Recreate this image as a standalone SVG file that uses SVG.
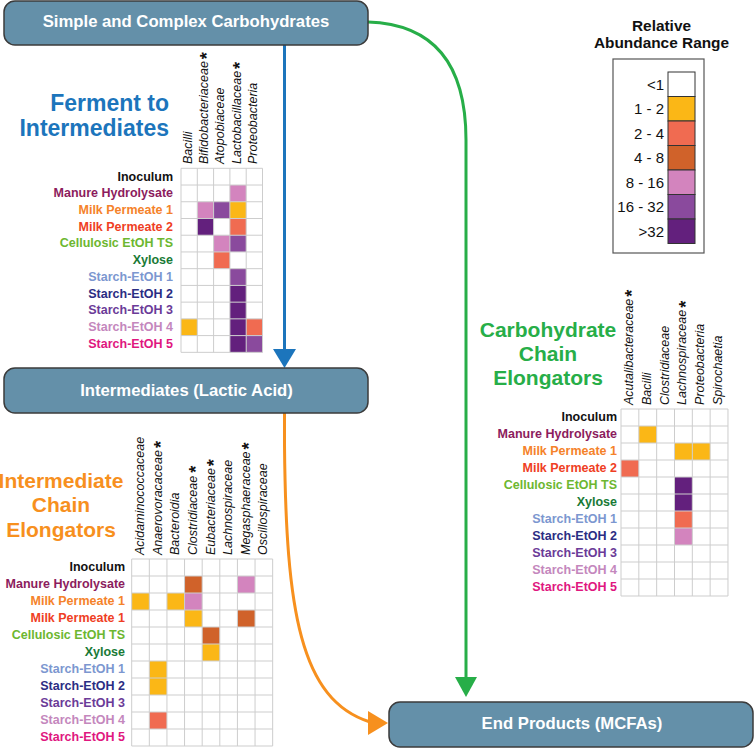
<svg xmlns="http://www.w3.org/2000/svg" width="754" height="748" viewBox="0 0 754 748">
<style>
text{font-family:"Liberation Sans",Arial,Helvetica,sans-serif}
.node rect{fill:#6490a9;stroke:#3b3b3b;stroke-width:1.5}
.node text{fill:#fff;font-weight:bold;font-size:16.7px;text-anchor:middle}
.rl{font-weight:bold;font-size:12.5px;text-anchor:end}
.cl{font-style:italic;font-size:12.5px;fill:#111}
.ast{font-style:normal;font-weight:bold;font-size:18px}
.k0{fill:#111}.k1{fill:#8c1c5d}.k2{fill:#f5822a}.k3{fill:#ef3e24}.k4{fill:#6db730}.k5{fill:#197a36}.k6{fill:#7c97d0}.k7{fill:#2b2d83}.k8{fill:#6b3b98}.k9{fill:#c487bd}.k10{fill:#e0177f}
.v0{fill:#fff}.v1{fill:#fbb716}.v2{fill:#f06b51}.v3{fill:#d0622a}.v4{fill:#d384be}.v5{fill:#8a4a9d}.v6{fill:#63207d}
.grid{fill:none;stroke:#cdcdcd;stroke-width:1;vector-effect:non-scaling-stroke}
.title{font-weight:bold;font-size:21px;text-anchor:middle}
.leg{font-size:15px;text-anchor:end;fill:#111}
.legt{font-size:15.4px;font-weight:bold;text-anchor:middle;fill:#111}
.sw{stroke:#333;stroke-width:1}
</style>

<g id="connectors">
  <path d="M284.5,45 L284.5,351" fill="none" stroke="#1c75bc" stroke-width="3"/>
  <polygon points="273,349 296,349 284.5,368" fill="#1c75bc"/>
  <path d="M368,22 C430,24 466,60 466,140 L466,679" fill="none" stroke="#27ae48" stroke-width="3"/>
  <polygon points="455,677 477,677 466,697" fill="#27ae48"/>
  <path d="M284.5,413 L284.5,445 C286,610 300,700 370,722" fill="none" stroke="#f7901e" stroke-width="3"/>
  <polygon points="368,711 368,735 388,723" fill="#f7901e"/>
</g>

<g id="node-carbohydrates" class="node">
  <rect x="4" y="1" width="364" height="44" rx="11"/>
  <text x="186" y="27">Simple and Complex Carbohydrates</text>
</g>
<g id="node-intermediates" class="node">
  <rect x="4" y="368" width="364" height="45" rx="11"/>
  <text x="186.5" y="396">Intermediates (Lactic Acid)</text>
</g>
<g id="node-end-products" class="node">
  <rect x="389" y="702" width="364" height="45" rx="11"/>
  <text x="572" y="729">End Products (MCFAs)</text>
</g>

<g id="legend">
  <text class="legt" x="661.5" y="31">Relative</text>
  <text class="legt" x="661.5" y="48">Abundance Range</text>
  <rect x="613" y="59" width="91" height="194" fill="#fff" stroke="#555" stroke-width="1.2"/>
  <rect class="sw v0" x="668" y="72" width="27" height="24.5"/>
  <rect class="sw v1" x="668" y="96.5" width="27" height="24.5"/>
  <rect class="sw v2" x="668" y="121" width="27" height="24.5"/>
  <rect class="sw v3" x="668" y="145.5" width="27" height="24.5"/>
  <rect class="sw v4" x="668" y="170" width="27" height="24.5"/>
  <rect class="sw v5" x="668" y="194.5" width="27" height="24.5"/>
  <rect class="sw v6" x="668" y="219" width="27" height="24.5"/>
  <text class="leg" x="664" y="89.5">&lt;1</text>
  <text class="leg" x="664" y="114">1 - 2</text>
  <text class="leg" x="664" y="138.5">2 - 4</text>
  <text class="leg" x="664" y="163">4 - 8</text>
  <text class="leg" x="664" y="187.5">8 - 16</text>
  <text class="leg" x="664" y="212">16 - 32</text>
  <text class="leg" x="664" y="236.5">&gt;32</text>
</g>

<g id="ferment-heatmap">
  <text class="title" style="text-anchor:end;font-size:23px" fill="#1c75bc" x="169" y="111">Ferment to</text>
  <text class="title" style="text-anchor:end;font-size:23px" fill="#1c75bc" x="169" y="136">Intermediates</text>
  <text class="cl" transform="translate(191.6,164) rotate(-90)">Bacilli</text>
  <text class="cl" transform="translate(207.9,164) rotate(-90)">Bifidobacteriaceae<tspan class="ast" dx="2" dy="5.5">*</tspan></text>
  <text class="cl" transform="translate(224.2,164) rotate(-90)">Atopobiaceae</text>
  <text class="cl" transform="translate(240.5,164) rotate(-90)">Lactobacillaceae<tspan class="ast" dx="2" dy="5.5">*</tspan></text>
  <text class="cl" transform="translate(256.8,164) rotate(-90)">Proteobacteria</text>
  <text class="rl k0" x="173" y="180.5">Inoculum</text>
  <text class="rl k1" x="173" y="197.2">Manure Hydrolysate</text>
  <text class="rl k2" x="173" y="214">Milk Permeate 1</text>
  <text class="rl k3" x="173" y="230.7">Milk Permeate 2</text>
  <text class="rl k4" x="173" y="247.4">Cellulosic EtOH TS</text>
  <text class="rl k5" x="173" y="264.2">Xylose</text>
  <text class="rl k6" x="173" y="280.9">Starch-EtOH 1</text>
  <text class="rl k7" x="173" y="297.6">Starch-EtOH 2</text>
  <text class="rl k8" x="173" y="314.3">Starch-EtOH 3</text>
  <text class="rl k9" x="173" y="331.1">Starch-EtOH 4</text>
  <text class="rl k10" x="173" y="347.8">Starch-EtOH 5</text>
  <g transform="translate(181 168.3) scale(16.3 16.73)">
    <rect x="0" y="0" width="5" height="11" fill="#fff"/>
    <rect class="v4" x="3" y="1" width="1" height="1"/>
    <rect class="v4" x="1" y="2" width="1" height="1"/>
    <rect class="v5" x="2" y="2" width="1" height="1"/>
    <rect class="v1" x="3" y="2" width="1" height="1"/>
    <rect class="v6" x="1" y="3" width="1" height="1"/>
    <rect class="v2" x="3" y="3" width="1" height="1"/>
    <rect class="v4" x="2" y="4" width="1" height="1"/>
    <rect class="v5" x="3" y="4" width="1" height="1"/>
    <rect class="v2" x="2" y="5" width="1" height="1"/>
    <rect class="v5" x="3" y="6" width="1" height="1"/>
    <rect class="v6" x="3" y="7" width="1" height="1"/>
    <rect class="v6" x="3" y="8" width="1" height="1"/>
    <rect class="v1" x="0" y="9" width="1" height="1"/>
    <rect class="v6" x="3" y="9" width="1" height="1"/>
    <rect class="v2" x="4" y="9" width="1" height="1"/>
    <rect class="v6" x="3" y="10" width="1" height="1"/>
    <rect class="v5" x="4" y="10" width="1" height="1"/>
    <path class="grid" d="M0 0H5M0 1H5M0 2H5M0 3H5M0 4H5M0 5H5M0 6H5M0 7H5M0 8H5M0 9H5M0 10H5M0 11H5M0 0V11M1 0V11M2 0V11M3 0V11M4 0V11M5 0V11"/>
  </g>
</g>

<g id="intermediate-heatmap">
  <text class="title" fill="#f7901e" x="61" y="488">Intermediate</text>
  <text class="title" fill="#f7901e" x="61" y="512">Chain</text>
  <text class="title" fill="#f7901e" x="61" y="537">Elongators</text>
  <text class="cl" transform="translate(144,555) rotate(-90)">Acidaminococcaceae</text>
  <text class="cl" transform="translate(161.6,555) rotate(-90)">Anaerovoracaceae<tspan class="ast" dx="2" dy="5.5">*</tspan></text>
  <text class="cl" transform="translate(179.2,555) rotate(-90)">Bacteroidia</text>
  <text class="cl" transform="translate(196.9,555) rotate(-90)">Clostridiaceae<tspan class="ast" dx="3" dy="5.5">*</tspan></text>
  <text class="cl" transform="translate(214.5,555) rotate(-90)">Eubacteriaceae<tspan class="ast" dx="2" dy="5.5">*</tspan></text>
  <text class="cl" transform="translate(232.1,555) rotate(-90)">Lachnospiraceae</text>
  <text class="cl" transform="translate(249.7,555) rotate(-90)">Megasphaeraceae<tspan class="ast" dx="2" dy="5.5">*</tspan></text>
  <text class="cl" transform="translate(267.3,555) rotate(-90)">Oscillospiraceae</text>
  <text class="rl k0" x="125" y="571.3">Inoculum</text>
  <text class="rl k1" x="125" y="588.3">Manure Hydrolysate</text>
  <text class="rl k2" x="125" y="605.3">Milk Permeate 1</text>
  <text class="rl k3" x="125" y="622.3">Milk Permeate 1</text>
  <text class="rl k4" x="125" y="639.3">Cellulosic EtOH TS</text>
  <text class="rl k5" x="125" y="656.3">Xylose</text>
  <text class="rl k6" x="125" y="673.3">Starch-EtOH 1</text>
  <text class="rl k7" x="125" y="690.3">Starch-EtOH 2</text>
  <text class="rl k8" x="125" y="707.3">Starch-EtOH 3</text>
  <text class="rl k9" x="125" y="724.3">Starch-EtOH 4</text>
  <text class="rl k10" x="125" y="741.3">Starch-EtOH 5</text>
  <g transform="translate(131.7 559) scale(17.62 17)">
    <rect x="0" y="0" width="8" height="11" fill="#fff"/>
    <rect class="v3" x="3" y="1" width="1" height="1"/>
    <rect class="v4" x="6" y="1" width="1" height="1"/>
    <rect class="v1" x="0" y="2" width="1" height="1"/>
    <rect class="v1" x="2" y="2" width="1" height="1"/>
    <rect class="v4" x="3" y="2" width="1" height="1"/>
    <rect class="v1" x="3" y="3" width="1" height="1"/>
    <rect class="v3" x="6" y="3" width="1" height="1"/>
    <rect class="v3" x="4" y="4" width="1" height="1"/>
    <rect class="v1" x="4" y="5" width="1" height="1"/>
    <rect class="v1" x="1" y="6" width="1" height="1"/>
    <rect class="v1" x="1" y="7" width="1" height="1"/>
    <rect class="v2" x="1" y="9" width="1" height="1"/>
    <path class="grid" d="M0 0H8M0 1H8M0 2H8M0 3H8M0 4H8M0 5H8M0 6H8M0 7H8M0 8H8M0 9H8M0 10H8M0 11H8M0 0V11M1 0V11M2 0V11M3 0V11M4 0V11M5 0V11M6 0V11M7 0V11M8 0V11"/>
  </g>
</g>

<g id="carbohydrate-heatmap">
  <text class="title" fill="#27ae48" x="548" y="337">Carbohydrate</text>
  <text class="title" fill="#27ae48" x="548" y="361">Chain</text>
  <text class="title" fill="#27ae48" x="548" y="385">Elongators</text>
  <text class="cl" transform="translate(632.9,405) rotate(-90)">Acutalibacteraceae<tspan class="ast" dx="2" dy="5.5">*</tspan></text>
  <text class="cl" transform="translate(650.7,405) rotate(-90)">Bacilli</text>
  <text class="cl" transform="translate(668.6,405) rotate(-90)">Clostridiaceae</text>
  <text class="cl" transform="translate(686.4,405) rotate(-90)">Lachnospiraceae<tspan class="ast" dx="2" dy="5.5">*</tspan></text>
  <text class="cl" transform="translate(704.2,405) rotate(-90)">Proteobacteria</text>
  <text class="cl" transform="translate(722.1,405) rotate(-90)">Spirochaetia</text>
  <text class="rl k0" x="617" y="421.3">Inoculum</text>
  <text class="rl k1" x="617" y="438.3">Manure Hydrolysate</text>
  <text class="rl k2" x="617" y="455.3">Milk Permeate 1</text>
  <text class="rl k3" x="617" y="472.3">Milk Permeate 2</text>
  <text class="rl k4" x="617" y="489.3">Cellulosic EtOH TS</text>
  <text class="rl k5" x="617" y="506.3">Xylose</text>
  <text class="rl k6" x="617" y="523.3">Starch-EtOH 1</text>
  <text class="rl k7" x="617" y="540.3">Starch-EtOH 2</text>
  <text class="rl k8" x="617" y="557.3">Starch-EtOH 3</text>
  <text class="rl k9" x="617" y="574.3">Starch-EtOH 4</text>
  <text class="rl k10" x="617" y="591.3">Starch-EtOH 5</text>
  <g transform="translate(621 409) scale(17.83 17)">
    <rect x="0" y="0" width="6" height="11" fill="#fff"/>
    <rect class="v1" x="1" y="1" width="1" height="1"/>
    <rect class="v1" x="3" y="2" width="1" height="1"/>
    <rect class="v1" x="4" y="2" width="1" height="1"/>
    <rect class="v2" x="0" y="3" width="1" height="1"/>
    <rect class="v6" x="3" y="4" width="1" height="1"/>
    <rect class="v6" x="3" y="5" width="1" height="1"/>
    <rect class="v2" x="3" y="6" width="1" height="1"/>
    <rect class="v4" x="3" y="7" width="1" height="1"/>
    <path class="grid" d="M0 0H6M0 1H6M0 2H6M0 3H6M0 4H6M0 5H6M0 6H6M0 7H6M0 8H6M0 9H6M0 10H6M0 11H6M0 0V11M1 0V11M2 0V11M3 0V11M4 0V11M5 0V11M6 0V11"/>
  </g>
</g>
</svg>
